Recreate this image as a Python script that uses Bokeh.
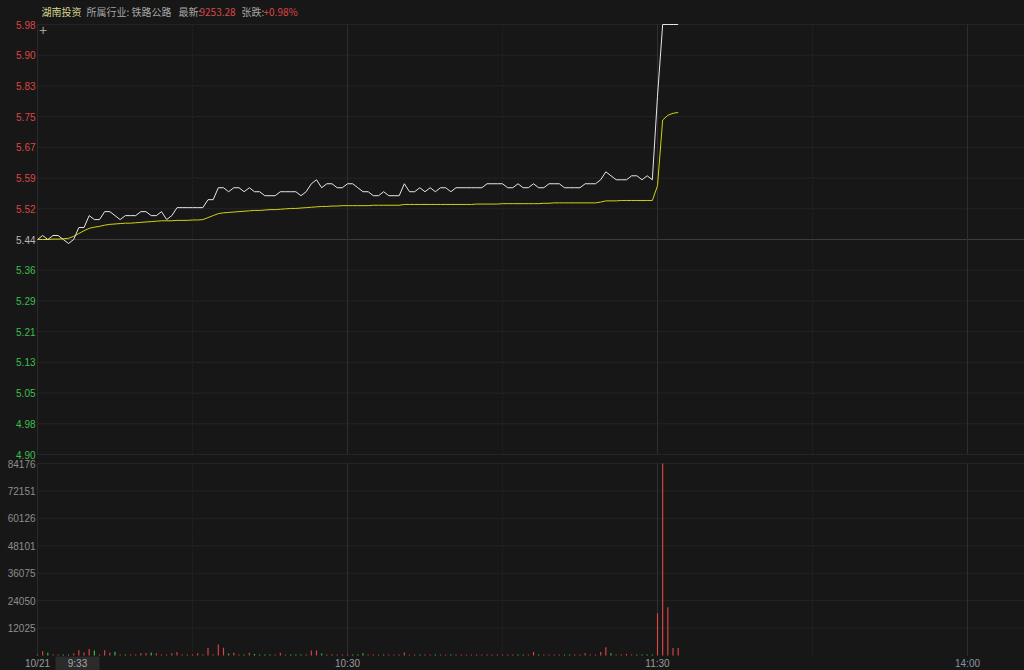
from bokeh.plotting import figure
from bokeh.layouts import column
from bokeh.models import Range1d
from bokeh.core.properties import value
from bokeh.embed import file_html
from bokeh.resources import INLINE

# ---------------- data ----------------
minutes = list(range(125))  # minutes since 9:30 (11:30 and 13:00 share index 120)

price = [
    5.44, 5.45, 5.44, 5.45, 5.45, 5.44, 5.43, 5.44, 5.47, 5.47,
    5.50, 5.49, 5.49, 5.51, 5.51, 5.50, 5.49, 5.50, 5.50, 5.50,
    5.51, 5.51, 5.50, 5.50, 5.51, 5.49, 5.50, 5.52, 5.52, 5.52,
    5.52, 5.52, 5.52, 5.54, 5.54, 5.57, 5.57, 5.56, 5.57, 5.57,
    5.56, 5.57, 5.56, 5.56, 5.55, 5.55, 5.55, 5.56, 5.56, 5.56,
    5.56, 5.55, 5.56, 5.58, 5.59, 5.57, 5.58, 5.58, 5.57, 5.57,
    5.58, 5.58, 5.57, 5.56, 5.56, 5.55, 5.55, 5.56, 5.55, 5.55,
    5.55, 5.58, 5.56, 5.56, 5.57, 5.56, 5.57, 5.56, 5.57, 5.57,
    5.56, 5.57, 5.57, 5.57, 5.57, 5.57, 5.57, 5.58, 5.58, 5.58,
    5.58, 5.57, 5.57, 5.58, 5.57, 5.57, 5.58, 5.57, 5.57, 5.58,
    5.58, 5.58, 5.57, 5.57, 5.57, 5.57, 5.58, 5.58, 5.58, 5.59,
    5.61, 5.60, 5.59, 5.59, 5.59, 5.60, 5.60, 5.59, 5.60, 5.59,
    5.80, 5.98, 5.98, 5.98, 5.98,
]

avg_price = [
    5.440, 5.440, 5.440, 5.441, 5.441, 5.442, 5.443, 5.448, 5.455, 5.462,
    5.468, 5.471, 5.473, 5.476, 5.478, 5.479, 5.480, 5.481, 5.481, 5.482,
    5.483, 5.484, 5.485, 5.486, 5.487, 5.487, 5.487, 5.488, 5.488, 5.488,
    5.489, 5.489, 5.490, 5.495, 5.500, 5.505, 5.507, 5.508, 5.509, 5.510,
    5.511, 5.512, 5.513, 5.513, 5.514, 5.515, 5.515, 5.516, 5.517, 5.518,
    5.518, 5.519, 5.520, 5.521, 5.522, 5.523, 5.523, 5.524, 5.524, 5.525,
    5.525, 5.525, 5.525, 5.525, 5.525, 5.526, 5.526, 5.526, 5.526, 5.526,
    5.526, 5.528, 5.528, 5.528, 5.528, 5.528, 5.528, 5.528, 5.528, 5.528,
    5.528, 5.528, 5.528, 5.528, 5.528, 5.529, 5.529, 5.529, 5.529, 5.529,
    5.530, 5.530, 5.530, 5.530, 5.530, 5.530, 5.530, 5.530, 5.531, 5.531,
    5.532, 5.532, 5.532, 5.532, 5.532, 5.532, 5.532, 5.532, 5.532, 5.534,
    5.537, 5.537, 5.537, 5.538, 5.538, 5.538, 5.538, 5.538, 5.538, 5.538,
    5.575, 5.740, 5.752, 5.757, 5.759,
]

volume = [
    450, 1900, 1200, 450, 450, 450, 450, 900, 2300, 1300,
    2800, 2200, 450, 2300, 1200, 1600, 450, 400, 400, 400,
    1000, 1000, 1300, 1000, 400, 400, 1000, 1500, 400, 400,
    450, 1000, 450, 3400, 450, 4800, 3400, 900, 1200, 400,
    400, 1200, 700, 450, 400, 400, 400, 1200, 400, 400,
    400, 400, 450, 2200, 2200, 900, 400, 600, 400, 400,
    400, 400, 400, 1000, 400, 400, 400, 400, 400, 400,
    400, 1300, 400, 400, 400, 400, 400, 400, 400, 400,
    400, 400, 400, 400, 400, 400, 400, 400, 400, 400,
    400, 400, 400, 400, 400, 400, 1600, 450, 400, 400,
    400, 400, 400, 400, 400, 400, 1000, 450, 400, 1500,
    3600, 1000, 450, 450, 700, 450, 450, 450, 450, 450,
    18500, 84176, 21100, 3300, 3300,
]

vol_dir = [  # 1 = up (red), -1 = down (green)
    1, 1, -1, 1, 1, -1, -1, 1, 1, 1,
    1, -1, 1, 1, 1, -1, 1, -1, 1, 1,
    1, 1, -1, 1, 1, 1, 1, 1, 1, 1,
    1, 1, 1, 1, 1, 1, 1, -1, 1, 1,
    -1, 1, -1, -1, -1, -1, 1, 1, 1, -1,
    -1, -1, 1, 1, 1, -1, 1, 1, 1, 1,
    1, -1, -1, -1, 1, 1, 1, -1, 1, 1,
    1, 1, 1, 1, -1, 1, 1, -1, 1, 1,
    -1, 1, 1, 1, 1, 1, 1, 1, 1, 1,
    1, 1, 1, -1, -1, 1, 1, -1, 1, 1,
    1, 1, -1, -1, 1, 1, 1, 1, 1, 1,
    1, -1, 1, 1, 1, 1, -1, -1, -1, -1,
    1, 1, 1, 1, 1,
]

prev_close = 5.44
price_low, price_high = 4.90, 5.98
price_tick_labels = ["4.90", "4.98", "5.05", "5.13", "5.21", "5.29", "5.36", "5.44",
                     "5.52", "5.59", "5.67", "5.75", "5.83", "5.90", "5.98"]
vol_max = 84176
vol_tick_labels = ["12025", "24050", "36075", "48101", "60126", "72151", "84176"]
time_solid = [60, 120, 180]
time_solid_labels = ["10:30", "11:30", "14:00"]
time_dashed = [30, 90, 150]
date_label = "10/21"
cursor_label = "9:33"

header_name = "湖南投资"
header_industry = "所属行业: 铁路公路"
header_last_key = "最新:"
header_last_val = "9253.28"
header_chg_key = "张跌:"
header_chg_val = "+0.98%"

# ---------------- layout / style ----------------
BG = "#171717"
GRID = "#242424"
GRID_V = "#2e2e2e"
GRID_D = "#252525"
RED = "#dc4646"
GREEN = "#3cbf4c"
W = 1024
H1, H2 = 459, 211
LEFT = 37
PPM = (657 - LEFT) / 120.0          # pixels per minute
P_TOP, P_BOT = 24, 454              # pixel rows of price_high / price_low
PPP = (P_BOT - P_TOP) / (price_high - price_low)
V_TOP, V_BOT = 463 - H1, 655 - H1   # rows in the volume figure
VPP = (V_BOT - V_TOP) / vol_max

def xd(px):
    return (px - LEFT) / PPM

def yp(py):
    return price_high + (P_TOP - py) / PPP

def yv(py_abs):
    return (V_BOT - (py_abs - H1)) / VPP

x_lo, x_hi = xd(0), xd(W)
n = len(price_tick_labels)
price_ticks = [price_low + i * (price_high - price_low) / (n - 1) for i in range(n)]
vol_ticks = [vol_max * (i + 1) / len(vol_tick_labels) for i in range(len(vol_tick_labels))]

FONT = value("Liberation Sans")
CJK = value("Noto Sans CJK SC")


def base_fig(h, y_range):
    f = figure(width=W, height=h, x_range=Range1d(x_lo, x_hi), y_range=y_range,
               output_backend="svg", toolbar_location=None, min_border=0,
               x_axis_location=None, y_axis_location=None)
    f.grid.visible = False
    f.outline_line_color = None
    f.background_fill_color = BG
    f.border_fill_color = BG
    return f

# ---------------- price pane ----------------
p1 = base_fig(H1, Range1d(yp(H1), yp(0)))

grid_ticks = [t for t, l in zip(price_ticks, price_tick_labels) if l != "5.44"]
p1.segment(x0=0, x1=x_hi, y0=grid_ticks, y1=grid_ticks, line_color=GRID, line_width=1)
p1.segment(x0=0, x1=x_hi, y0=[prev_close], y1=[prev_close], line_color="#3c3c3c", line_width=1)
p1.segment(x0=time_solid, x1=time_solid, y0=price_low, y1=price_high, line_color=GRID_V, line_width=1)
p1.segment(x0=time_dashed, x1=time_dashed, y0=price_low, y1=price_high, line_color=GRID_D,
           line_width=1, line_dash="2 2")
p1.segment(x0=[0], x1=[0], y0=price_low, y1=price_high, line_color="#2a2a2a", line_width=1)

p1.line(minutes, avg_price, line_color="#d2d20c", line_width=1)
p1.line(minutes, price, line_color="#e6e6e6", line_width=1)

tick_colors = [RED if l > "5.44" else ("#b8b8b8" if l == "5.44" else GREEN) for l in price_tick_labels]
p1.text(x=xd(35), y=price_ticks, text=price_tick_labels, text_color=tick_colors,
        text_align="right", text_baseline="middle", text_font=FONT, text_font_size="10px")

hx = [41, 86, 178, 199, 241, 263]
htext = [header_name, header_industry, header_last_key, header_last_val, header_chg_key, header_chg_val]
hcol = ["#d8d68e", "#a6a6a6", "#a6a6a6", RED, "#a6a6a6", RED]
for xx, tt, cc in zip(hx, htext, hcol):
    p1.text(x=[xd(xx)], y=[yp(11)], text=[tt], text_color=cc, text_align="left",
            text_baseline="middle", text_font=CJK, text_font_size="10px")
p1.text(x=[xd(42.5)], y=[yp(29.5)], text=["+"], text_color="#a0a0a0", text_align="center",
        text_baseline="middle", text_font=FONT, text_font_size="14px")

# ---------------- volume pane ----------------
p2 = base_fig(H2, Range1d(yv(H1 + H2), yv(H1)))

p2.segment(x0=0, x1=x_hi, y0=vol_ticks, y1=vol_ticks, line_color=GRID, line_width=1)
p2.segment(x0=time_solid, x1=time_solid, y0=0, y1=vol_max, line_color=GRID_V, line_width=1)
p2.segment(x0=time_dashed, x1=time_dashed, y0=0, y1=vol_max, line_color=GRID_D,
           line_width=1, line_dash="2 2")
p2.segment(x0=[0], x1=[0], y0=0, y1=vol_max, line_color="#2a2a2a", line_width=1)

bar_colors = [RED if d > 0 else GREEN for d in vol_dir]
p2.vbar(x=minutes, top=volume, bottom=0, width=0.22, fill_color=bar_colors,
        line_color=None)

p2.text(x=xd(35), y=vol_ticks, text=vol_tick_labels, text_color="#8e8e8e",
        text_align="right", text_baseline="middle", text_font=FONT, text_font_size="10px")

# bottom time labels
p2.quad(left=[xd(55)], right=[xd(99)], bottom=[yv(H1 + H2)], top=[yv(656)],
        fill_color="#2b2b2b", line_color=None)
p2.text(x=[xd(77)], y=[yv(663)], text=[cursor_label], text_color="#a8a8a8",
        text_align="center", text_baseline="middle", text_font=FONT, text_font_size="10px")
p2.text(x=[0], y=[yv(663)], text=[date_label], text_color="#9a9a9a",
        text_align="center", text_baseline="middle", text_font=FONT, text_font_size="10px")
p2.text(x=time_solid, y=yv(663), text=time_solid_labels, text_color=["#9a9a9a", "#9a9a9a", "#8a94a2"],
        text_align="center", text_baseline="middle", text_font=FONT, text_font_size="10px")

layout = column(p1, p2, spacing=0)
html = file_html(layout, INLINE)
html = html.replace("</head>", "<style>html,body{margin:0;padding:0;overflow:hidden;background:#171717;}</style></head>", 1)
open("out.html", "w").write(html)
